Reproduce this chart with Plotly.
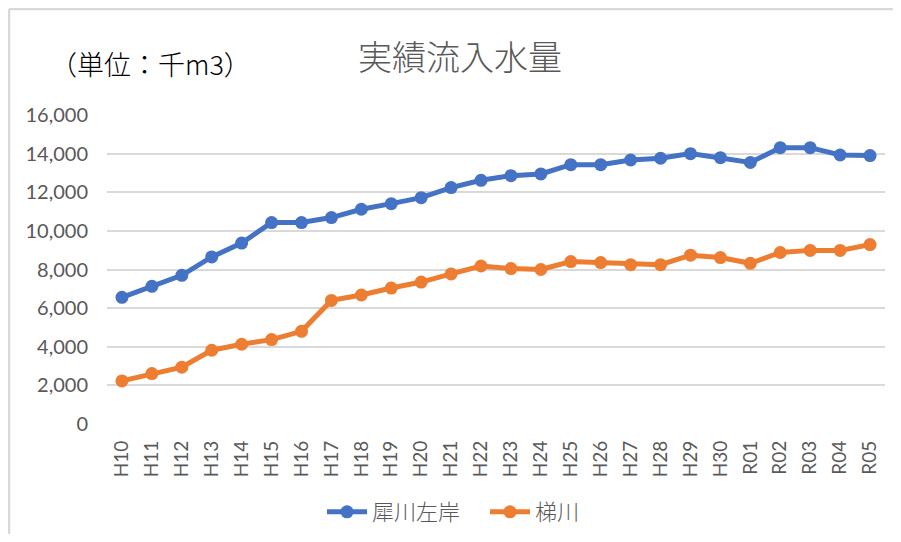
import plotly.graph_objects as go

categories = ["H10", "H11", "H12", "H13", "H14", "H15", "H16", "H17", "H18", "H19",
              "H20", "H21", "H22", "H23", "H24", "H25", "H26", "H27", "H28", "H29",
              "H30", "R01", "R02", "R03", "R04", "R05"]
saigawa = [6560, 7130, 7700, 8650, 9370, 10430, 10430, 10690, 11120, 11410,
           11720, 12240, 12620, 12860, 12950, 13430, 13430, 13670, 13760, 14000,
           13790, 13540, 14310, 14310, 13930, 13900]
kakehashi = [2230, 2610, 2940, 3820, 4130, 4370, 4800, 6400, 6680, 7040,
             7350, 7770, 8180, 8050, 8000, 8410, 8360, 8250, 8250, 8740,
             8620, 8320, 8880, 8990, 8990, 9290]
series_names = ["犀川左岸", "梯川"]
y_ticks = [0, 2000, 4000, 6000, 8000, 10000, 12000, 14000, 16000]

OX, OY = 8, 8  # page body margin offset
W, H = 901 - 2 * OX, 542 - 2 * OY
# desired plot area in page pixels
PL, PR, PT, PB = 107, 885, 115, 424
L = PL - OX
T = PT - OY
R = W - (PR - OX)
B = H - (PB - OY)
PW, PH = PR - PL, PB - PT

def px(x):
    return (x - PL) / PW

def py(y):
    return (PB - y) / PH

fig = go.Figure()
fig.add_trace(go.Scatter(x=categories, y=saigawa, name=series_names[0], mode="lines+markers",
                         line=dict(color="#4472C4", width=5),
                         marker=dict(color="#4472C4", size=13)))
fig.add_trace(go.Scatter(x=categories, y=kakehashi, name=series_names[1], mode="lines+markers",
                         line=dict(color="#ED7D31", width=5),
                         marker=dict(color="#ED7D31", size=13)))

fig.update_layout(
    width=W, height=H,
    margin=dict(l=L, r=R, t=T, b=B, autoexpand=False),
    paper_bgcolor="white", plot_bgcolor="white",
    font=dict(family="Lato, Noto Sans CJK JP", color="#595959"),
    showlegend=True,
    legend=dict(orientation="h", x=px(322), xanchor="left", y=py(512), yanchor="middle",
                font=dict(size=22, family="Noto Sans CJK JP", color="#595959", weight=300),
                itemwidth=40, entrywidth=108, bgcolor="rgba(0,0,0,0)"),
    xaxis=dict(type="category", range=[-0.5, len(categories) - 0.5], showgrid=False,
               showline=False, zeroline=False, ticks="", tickangle=-90,
               tickfont=dict(size=19, family="Lato", color="#595959"),
               ticklabelstandoff=12, fixedrange=True),
    yaxis=dict(range=[0, 16000], tickvals=y_ticks,
               ticktext=[f"{v:,}" for v in y_ticks],
               showgrid=True, gridcolor="#d9d9d9", gridwidth=1.5,
               zeroline=False, showline=False, ticks="",
               tickfont=dict(size=20, family="Lato", color="#595959"),
               ticklabelstandoff=18, fixedrange=True),
    annotations=[
        dict(text="実績流入水量", xref="paper", yref="paper", x=px(460), y=py(55),
             xanchor="center", yanchor="middle", showarrow=False,
             font=dict(size=34, family="Noto Sans CJK JP", color="#595959", weight=300)),
        dict(text="（単位：千m3）", xref="paper", yref="paper", x=px(150), y=py(63),
             xanchor="center", yanchor="middle", showarrow=False,
             font=dict(size=27, family="Noto Sans CJK JP", color="#000000", weight=300)),
    ],
    shapes=[
        dict(type="line", xref="paper", yref="paper", x0=px(9), x1=px(910), y0=py(9), y1=py(9),
             line=dict(color="#d9d9d9", width=2.5)),
        dict(type="line", xref="paper", yref="paper", x0=px(9), x1=px(9), y0=py(9), y1=py(560),
             line=dict(color="#d9d9d9", width=2.5)),
    ],
)

fig.write_html("out.html")
